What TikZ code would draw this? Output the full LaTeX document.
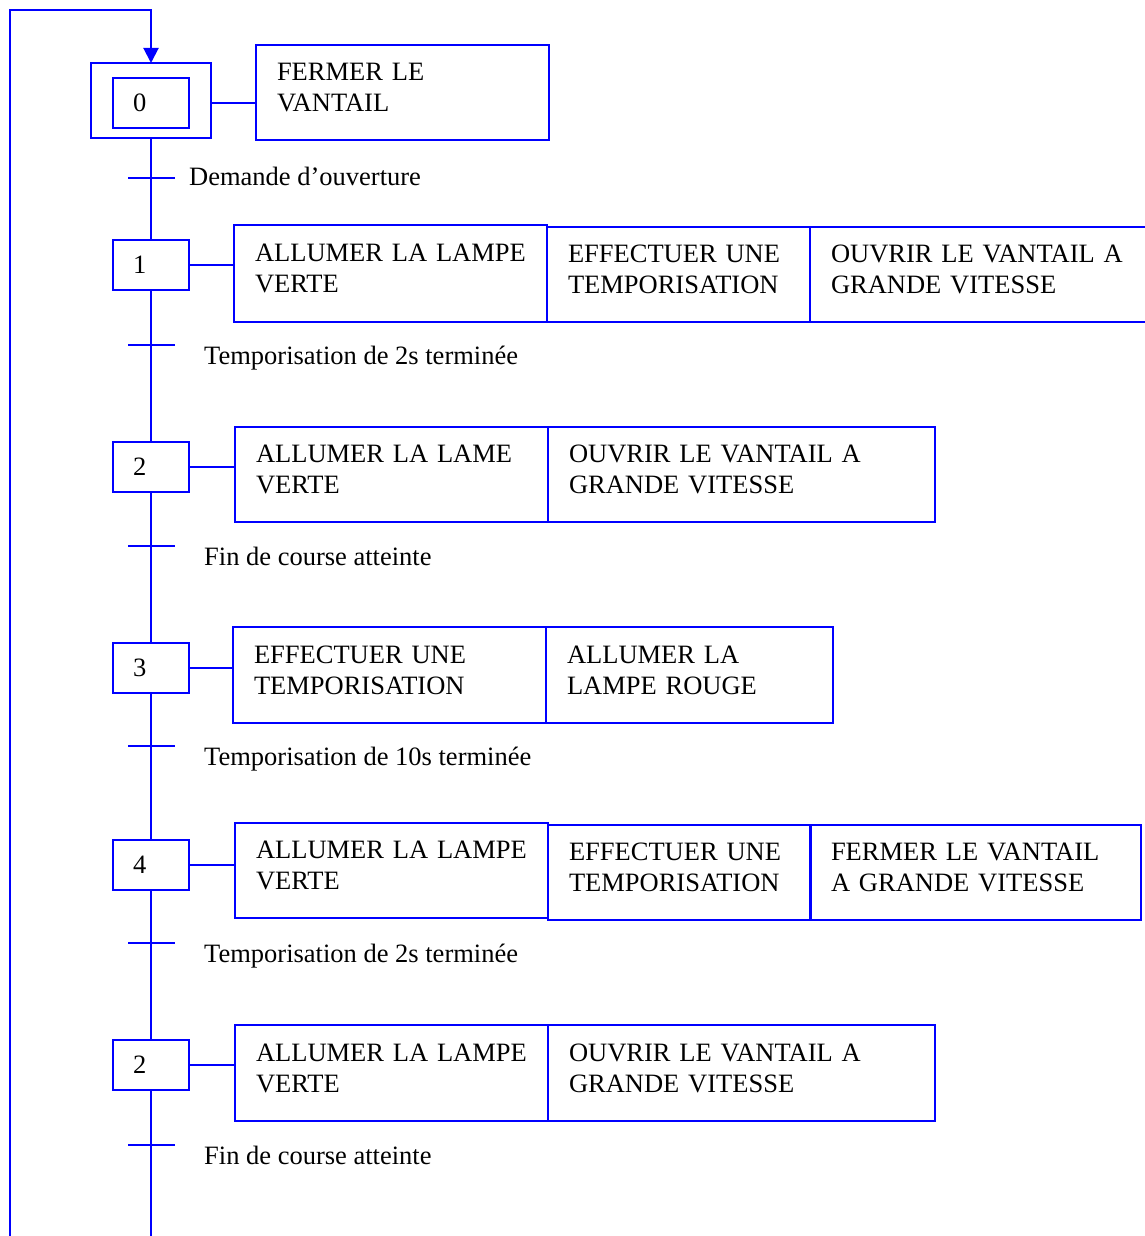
\documentclass[tikz,border=0pt]{standalone}
\usepackage{fontspec}
\setmainfont{Liberation Serif}
\usetikzlibrary{arrows.meta}
\newcommand\txtfont{\fontsize{26.5pt}{31pt}\selectfont}
\begin{document}
\begin{tikzpicture}[x=1pt,y=-1pt,
  ln/.style={draw=blue, line width=2pt},
  box/.style={ln, rectangle, anchor=north west, outer sep=0pt},
  stepbox/.style={box, minimum width=76pt, minimum height=50pt,
    inner xsep=20pt, inner ysep=0pt, text width=36pt, align=left, font=\txtfont},
  act/.style n args={3}{box, minimum width=#1, minimum height=#2,
    text width=#3, inner xsep=21pt, inner ysep=0pt, align=left, font=\txtfont,
    text height=17.5pt, text depth=41pt},
  lbl/.style={anchor=base west, inner sep=0pt, font=\txtfont},
  arr/.style={ln, -{Triangle[length=15pt,width=15pt]}},
]
\useasboundingbox (0,0) rectangle (1145,1236);

% ---- step 0 (initial)
\node[box, minimum width=120pt, minimum height=75pt, inner sep=0pt] (s0o) at (91,63) {};
\node[stepbox] (s0) at (113,78) {0};
\node[act={293pt}{95pt}{251pt}] (a0) at (256,45) {FERMER LE\\VANTAIL};

% ---- step 1
\node[stepbox] (s1) at (113,240) {1};
\node[act={313pt}{97pt}{271pt}] (a1a) at (234,225) {ALLUMER LA LAMPE\\VERTE};
\node[act={263pt}{95pt}{221pt}] (a1b) at (547,227) {EFFECTUER UNE\\TEMPORISATION};
\node[act={350pt}{95pt}{308pt}] (a1c) at (810,227) {OUVRIR LE VANTAIL A\\GRANDE VITESSE};

% ---- step 2
\node[stepbox] (s2) at (113,442) {2};
\node[act={313pt}{95pt}{271pt}] (a2a) at (235,427) {ALLUMER LA LAME\\VERTE};
\node[act={387pt}{95pt}{345pt}] (a2b) at (548,427) {OUVRIR LE VANTAIL A\\GRANDE VITESSE};

% ---- step 3
\node[stepbox] (s3) at (113,643) {3};
\node[act={313pt}{96pt}{271pt}] (a3a) at (233,627) {EFFECTUER UNE\\TEMPORISATION};
\node[act={287pt}{96pt}{245pt}] (a3b) at (546,627) {ALLUMER LA\\LAMPE ROUGE};

% ---- step 4
\node[stepbox] (s4) at (113,840) {4};
\node[act={313pt}{95pt}{271pt}] (a4a) at (235,823) {ALLUMER LA LAMPE\\VERTE};
\node[act={263pt}{95pt}{221pt}] (a4b) at (548,825) {EFFECTUER UNE\\TEMPORISATION};
\node[act={331pt}{95pt}{289pt}] (a4c) at (810,825) {FERMER LE VANTAIL\\A GRANDE VITESSE};

% ---- step 2 (again)
\node[stepbox] (s5) at (113,1040) {2};
\node[act={313pt}{96pt}{271pt}] (a5a) at (235,1025) {ALLUMER LA LAMPE\\VERTE};
\node[act={387pt}{96pt}{345pt}] (a5b) at (548,1025) {OUVRIR LE VANTAIL A\\GRANDE VITESSE};

% ---- transitions
\coordinate (t0) at (151,178);
\coordinate (t1) at (151,345);
\coordinate (t2) at (151,546);
\coordinate (t3) at (151,746);
\coordinate (t4) at (151,943);
\coordinate (t5) at (151,1145);
\foreach \t in {t0,t1,t2,t3,t4,t5}
  \draw[ln] ([xshift=-23pt]\t) -- ([xshift=24pt]\t);

\node[lbl] (l0) at (189,185) {Demande d’ouverture};
\node[lbl] (l1) at (204,364) {Temporisation de 2s terminée};
\node[lbl] (l2) at (204,565) {Fin de course atteinte};
\node[lbl] (l3) at (204,765) {Temporisation de 10s terminée};
\node[lbl] (l4) at (204,962) {Temporisation de 2s terminée};
\node[lbl] (l5) at (204,1164) {Fin de course atteinte};

% ---- links step -> actions
\draw[ln] (s0.east -| s0o.east) -- (s0.east -| a0.west);
\draw[ln] (s1.east) -- (s1.east -| a1a.west);
\draw[ln] (s2.east) -- (s2.east -| a2a.west);
\draw[ln] (s3.east) -- (s3.east -| a3a.west);
\draw[ln] (s4.east) -- (s4.east -| a4a.west);
\draw[ln] (s5.east) -- (s5.east -| a5a.west);

% ---- main line
\coordinate (top) at (151,10);
\coordinate (bL) at (10,1240);
\coordinate (bR) at (151,1240);
\draw[ln] (s0o.south) -- (s1.north);
\draw[ln] (s1.south) -- (s2.north);
\draw[ln] (s2.south) -- (s3.north);
\draw[ln] (s3.south) -- (s4.north);
\draw[ln] (s4.south) -- (s5.north);
\draw[ln] (s5.south) -- (bR);
\draw[arr] (bL) |- (top) -- (s0o.north);
\end{tikzpicture}
\end{document}
